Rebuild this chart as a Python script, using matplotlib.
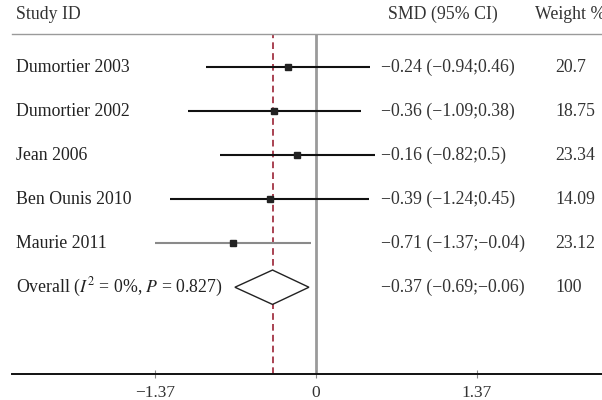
import matplotlib
matplotlib.use("Agg")
import matplotlib.pyplot as plt
from matplotlib.patches import Polygon

plt.rcParams['font.family'] = ['Liberation Serif', 'DejaVu Serif']
plt.rcParams['mathtext.fontset'] = 'stix'

studies = ["Dumortier 2003", "Dumortier 2002", "Jean 2006", "Ben Ounis 2010", "Maurie 2011"]
smd = [-0.24, -0.36, -0.16, -0.39, -0.71]
lower = [-0.94, -1.09, -0.82, -1.24, -1.37]
upper = [0.46, 0.38, 0.5, 0.45, -0.04]
ci_text = ["\u22120.24 (\u22120.94;0.46)", "\u22120.36 (\u22121.09;0.38)", "\u22120.16 (\u22120.82;0.5)",
           "\u22120.39 (\u22121.24;0.45)", "\u22120.71 (\u22121.37;\u22120.04)"]
weights = ["20.7", "18.75", "23.34", "14.09", "23.12"]
line_colors = ["#111111", "#111111", "#111111", "#111111", "#8a8a8a"]

overall_label = "Overall ($I^2$ = 0%, $P$ = 0.827)"
overall_smd = -0.37
overall_lower = -0.69
overall_upper = -0.06
overall_text = "\u22120.37 (\u22120.69;\u22120.06)"
overall_weight = "100"

xticks = [-1.37, 0, 1.37]
xticklabels = ["\u22121.37", "0", "1.37"]

fig = plt.figure(figsize=(6.02, 4.00), dpi=100)
ax = fig.add_axes([12/602, 26/400, 590/602, 340/400])
ax.set_xlim(-2.587, 2.434)
ax.set_ylim(6.97, -0.75)

for s in ['left', 'right']:
    ax.spines[s].set_visible(False)
ax.spines['top'].set_color('#9a9a9a')
ax.spines['top'].set_linewidth(1.0)
ax.spines['bottom'].set_color('#111111')
ax.spines['bottom'].set_linewidth(1.4)
ax.set_yticks([])
ax.set_xticks(xticks)
ax.set_xticklabels(xticklabels, fontsize=12.5, color='#333333')
ax.tick_params(axis='x', direction='inout', length=6, width=0.8, color='#888888', pad=5)

# zero line
ax.axvline(0, color='#9a9a9a', lw=2.0, zorder=1)
# overall dashed line
ax.axvline(overall_smd, color='#9b2335', lw=1.2, ls=(0, (4, 2.5)), zorder=2)

fs = 12.8
for i, name in enumerate(studies):
    ax.plot([lower[i], upper[i]], [i, i], color=line_colors[i], lw=1.5, zorder=3, solid_capstyle='butt')
    ax.plot(smd[i], i, marker='s', ms=4, color='#222222', zorder=4)
    ax.text(-2.555, i, name, fontsize=fs, va='center', ha='left', color='#222222')
    ax.text(0.555, i, ci_text[i], fontsize=fs, va='center', ha='left', color='#333333')
    ax.text(2.035, i, weights[i], fontsize=fs, va='center', ha='left', color='#333333')

yo = len(studies)
dh = 0.39
diamond = Polygon([[overall_lower, yo], [overall_smd, yo - dh], [overall_upper, yo], [overall_smd, yo + dh]],
                  closed=True, facecolor='white', edgecolor='#222222', lw=1.0, zorder=3)
ax.add_patch(diamond)
ax.text(-2.555, yo, overall_label, fontsize=fs, va='center', ha='left', color='#222222')
ax.text(0.555, yo, overall_text, fontsize=fs, va='center', ha='left', color='#333333')
ax.text(2.035, yo, overall_weight, fontsize=fs, va='center', ha='left', color='#333333')

# headers
ax.text(-2.555, -1.2, "Study ID", fontsize=fs, va='center', ha='left', color='#333333', clip_on=False)
ax.text(0.61, -1.2, "SMD (95% CI)", fontsize=fs, va='center', ha='left', color='#333333', clip_on=False)
ax.text(1.86, -1.2, "Weight %", fontsize=fs, va='center', ha='left', color='#333333', clip_on=False)

fig.savefig("out.png", dpi=100)
